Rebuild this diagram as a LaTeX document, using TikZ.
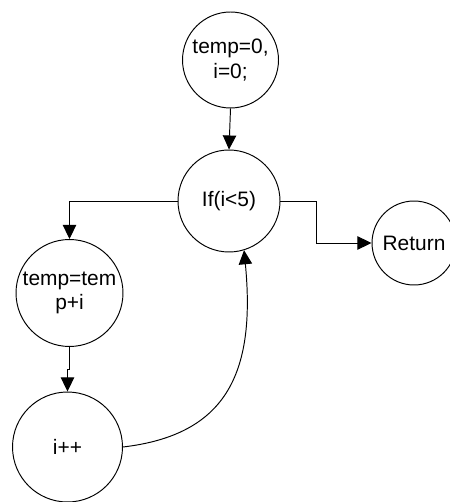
\documentclass[tikz,border=0pt]{standalone}
\usepackage{fontspec}
\setmainfont{Liberation Sans}
\usetikzlibrary{arrows.meta}
\begin{document}
\begin{tikzpicture}[x=0.02cm,y=-0.02cm,
  state/.style={draw,circle,line width=0.55pt,inner sep=0pt,align=center,
    font=\fontsize{11.9}{13.8}\selectfont},
  arr/.style={line width=0.55pt,-{Triangle[length=8pt,width=7.6pt]}}]
\useasboundingbox (0,0) rectangle (449,502);
% process steps
\node[state,minimum size=1.92cm] (init) at (230.5,60) {temp=0,\\i=0;};
\node[state,minimum size=2.04cm] (cond) at (229,201) {If(i<5)};
\node[state,minimum size=2.14cm] (body) at (69.5,293) {temp=tem\\p+i};
\node[state,minimum size=2.2cm] (incr) at (67.5,447) {i++};
\node[state,minimum size=1.68cm] (ret) at (414,243) {Return};
% control flow
\coordinate (bend) at (316,201);
\draw[arr] (init.south) -- (cond.north);
\draw[arr] (cond.west) -| (body.north);
\draw[arr] (cond.east) -- (bend) |- (ret.west);
\draw[arr] (body.south) -- ++(0,23) -| (incr.north);
\draw[arr] (incr.east) .. controls (225,435) and (256,375) .. (cond.-73);
\end{tikzpicture}
\end{document}
